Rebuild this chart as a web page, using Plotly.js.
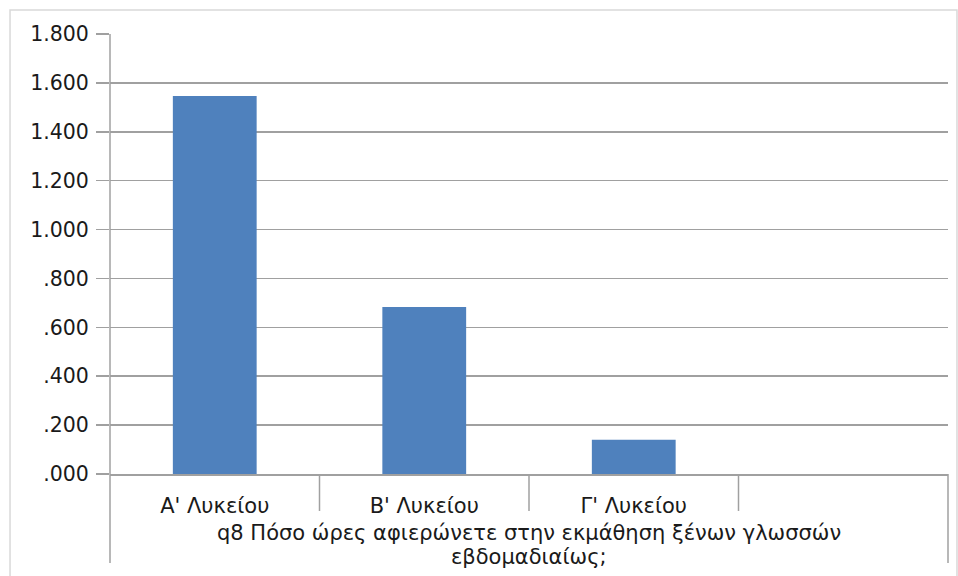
<!DOCTYPE html>
<html>
<head>
<meta charset="utf-8">
<script src="https://cdn.plot.ly/plotly-3.0.1.min.js"></script>
<style>
  html, body { margin: 0; padding: 0; background: #ffffff; }
  #chart { width: 958px; height: 576px; }
</style>
</head>
<body>
<div id="chart"></div>
<script>
// Data
const categories = ["A' Λυκείου", "B' Λυκείου", "Γ' Λυκείου"];
const values = [1.546, 0.683, 0.140];
const yTickValues = [0, 0.2, 0.4, 0.6, 0.8, 1.0, 1.2, 1.4, 1.6, 1.8];
const yTickLabels = [".000", ".200", ".400", ".600", ".800", "1.000", "1.200", "1.400", "1.600", "1.800"];
const groupLabelLines = ["q8 Πόσο ώρες αφιερώνετε στην εκμάθηση ξένων γλωσσών", "εβδομαδιαίως;"];

const xPos = categories.map((c, i) => i);
const FONT = "DejaVu Sans, sans-serif";

const trace = {
  type: 'bar',
  x: xPos,
  y: values,
  width: 0.4,
  marker: { color: '#4f81bd', line: { width: 0 } },
  hoverinfo: 'x+y'
};

const gray = '#a0a0a0';
const shapes = [];
// separators between categories below axis
[0.5, 1.5, 2.5].forEach(v => {
  shapes.push({ type: 'line', xref: 'x', yref: 'paper', x0: v, x1: v, y0: 0, y1: -0.084,
    line: { color: gray, width: 1.5 } });
});
// left axis extension and right bracket
shapes.push({ type: 'line', xref: 'paper', yref: 'paper', x0: 0, x1: 0, y0: 1, y1: -0.2023,
  line: { color: gray, width: 1.5 } });
shapes.push({ type: 'line', xref: 'paper', yref: 'paper', x0: 1, x1: 1, y0: 0, y1: -0.2023,
  line: { color: gray, width: 1.5 } });
// outer chart border
shapes.push({ type: 'rect', xref: 'paper', yref: 'paper', x0: -0.1193, x1: 1.0107, y0: -0.4, y1: 1.0545,
  line: { color: '#d9d9d9', width: 1.5 }, fillcolor: 'rgba(0,0,0,0)', layer: 'below' });

const lineY = [-0.1341, -0.1886];
const annotations = groupLabelLines.map((t, i) => ({
  text: t,
  xref: 'paper', yref: 'paper',
  x: 0.5, y: lineY[i],
  xanchor: 'center', yanchor: 'middle',
  showarrow: false,
  font: { family: FONT, size: 21, color: '#1a1a1a' }
}));

const layout = {
  width: 958,
  height: 576,
  margin: { l: 110, r: 10, t: 34, b: 102 },
  paper_bgcolor: '#ffffff',
  plot_bgcolor: '#ffffff',
  showlegend: false,
  font: { family: FONT, size: 20, color: '#1a1a1a' },
  xaxis: {
    range: [-0.5, 3.5],
    tickvals: xPos,
    ticktext: categories,
    ticks: '',
    ticklabelstandoff: 12,
    showgrid: false,
    zeroline: false,
    showline: true,
    linecolor: gray,
    linewidth: 1.5,
    fixedrange: true,
    tickfont: { family: FONT, size: 21, color: '#1a1a1a' }
  },
  yaxis: {
    range: [0, 1.8],
    tickvals: yTickValues,
    ticktext: yTickLabels,
    ticks: 'outside',
    ticklen: 13,
    tickcolor: gray,
    tickwidth: 1.5,
    ticklabelstandoff: 3,
    showgrid: true,
    gridcolor: gray,
    gridwidth: 1.5,
    zeroline: false,
    showline: false,
    fixedrange: true,
    tickfont: { family: FONT, size: 20.5, color: '#1a1a1a' }
  },
  shapes: shapes,
  annotations: annotations
};

Plotly.newPlot('chart', [trace], layout, { displayModeBar: false, staticPlot: true });
</script>
</body>
</html>
